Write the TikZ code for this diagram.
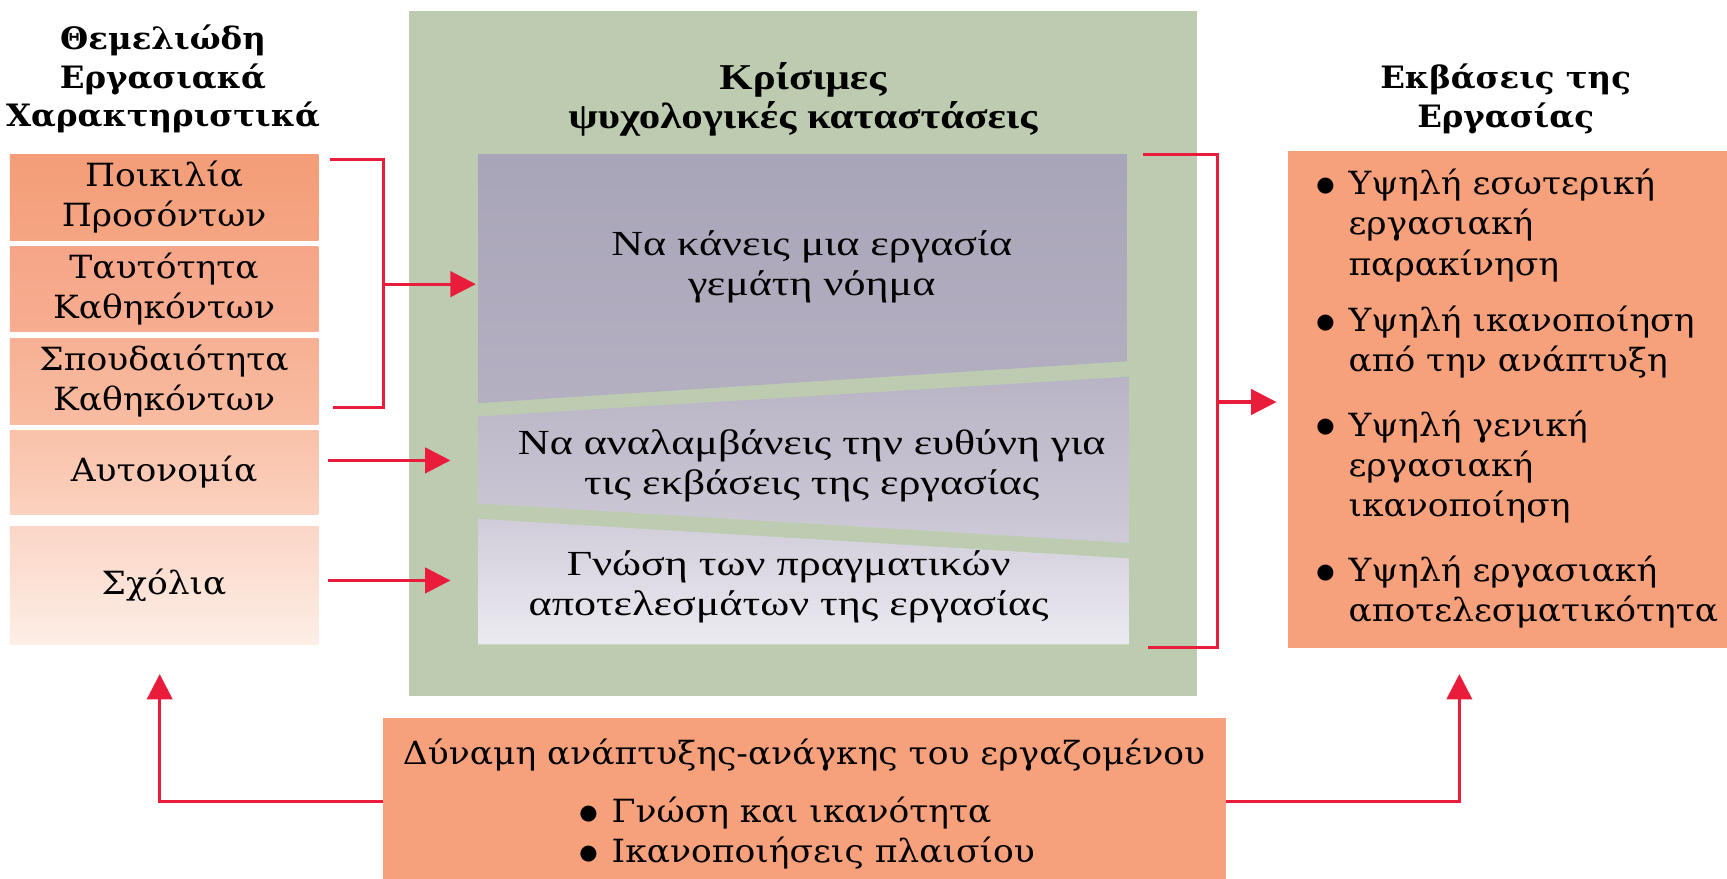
\documentclass[tikz,border=0pt]{standalone}
\usepackage{fontspec}
\setmainfont{DejaVu Serif}[FakeStretch=1.08]
\newfontfamily\headfont{DejaVu Serif}[FakeStretch=1.05]
\newfontfamily\timesgr{Liberation Serif}[FakeStretch=1.25]
\newfontfamily\timeshead{Liberation Serif}[FakeStretch=1.18]
\newfontfamily\symfont{DejaVu Sans}
\usetikzlibrary{positioning,arrows.meta,shadings}

\definecolor{panelgreen}{RGB}{189,204,177}
\definecolor{linkred}{RGB}{234,28,60}
\definecolor{salmon}{RGB}{246,160,124}

\newcommand{\itembul}{\makebox[7pt][c]{\raisebox{1.5pt}{\symfont\fontsize{9.5}{10}\selectfont ●}}}

\tikzset{
  feat/.style={minimum width=140pt, inner sep=0pt, align=center, font=\fontsize{14.5}{18.2}\selectfont},
  head/.style={align=center, inner sep=0pt, font=\headfont\bfseries\fontsize{14}{17.5}\selectfont},
  state/.style={align=center, inner sep=0pt, font=\timesgr\fontsize{16}{18.2}\selectfont},
  outcome/.style={anchor=north west, inner sep=0pt, font=\fontsize{14.5}{18.2}\selectfont},
  link/.style={draw=linkred, line width=1.4pt, -{Triangle[length=11.5pt,width=11.5pt]}},
  bracket/.style={draw=linkred, line width=1.4pt}
}

\begin{document}
\begin{tikzpicture}[x=0.5pt,y=-0.5pt]
\useasboundingbox (0,0) rectangle (1568,798);
%
  \node [head] (feathead) at (148,72) {Θεμελιώδη\\Εργασιακά\\Χαρακτηριστικά};
  \node [feat, minimum height=39pt, top color={rgb,255:red,244;green,157;blue,120}, bottom color={rgb,255:red,245;green,165;blue,130}] (pp) at (149,179) {Ποικιλία\\Προσόντων};
  \node [feat, minimum height=38.5pt, top color={rgb,255:red,246;green,165;blue,136}, bottom color={rgb,255:red,247;green,173;blue,144}] (tk) at (149,262.5) {Ταυτότητα\\Καθηκόντων};
  \node [feat, minimum height=39pt, top color={rgb,255:red,247;green,176;blue,147}, bottom color={rgb,255:red,248;green,188;blue,162}] (sk) at (149,346) {Σπουδαιότητα\\Καθηκόντων};
  \node [feat, minimum height=38pt, top color={rgb,255:red,249;green,193;blue,168}, bottom color={rgb,255:red,251;green,210;blue,192}] (au) at (149,429) {Αυτονομία};
  \node [feat, minimum height=53.5pt, top color={rgb,255:red,251;green,214;blue,198}, bottom color={rgb,255:red,253;green,238;blue,230}] (sx) at (149,531.5) {Σχόλια};

  % green panel with the three states
  \fill [panelgreen] (371,10) rectangle (1087,632);
  \node [head, font=\timeshead\bfseries\fontsize{16.5}{17.5}\selectfont] (statehead) at (729,90) {Κρίσιμες\\ψυχολογικές καταστάσεις};
  \shade [top color={rgb,255:red,169;green,165;blue,184}, bottom color={rgb,255:red,180;green,175;blue,193}] (434,140) -- (1023,140) -- (1023,328) -- (434,366) -- cycle;
  \shade [top color={rgb,255:red,185;green,180;blue,197}, bottom color={rgb,255:red,206;green,202;blue,215}] (434,378) -- (1025,342) -- (1025,493) -- (434,457) -- cycle;
  \shade [top color={rgb,255:red,208;green,204;blue,217}, bottom color={rgb,255:red,236;green,234;blue,241}] (434,471) -- (1025,507) -- (1025,585) -- (434,585) -- cycle;
  \node [state] (meaning) at (737,242) {Να κάνεις μια εργασία\\γεμάτη νόημα};
  \node [state] (resp) at (737,423) {Να αναλαμβάνεις την ευθύνη για\\τις εκβάσεις της εργασίας};
  \node [state] (know) at (716,533) {Γνώση των πραγματικών\\αποτελεσμάτων της εργασίας};

  % outcomes
  \node [head] (outhead) at (1367,90) {Εκβάσεις της\\Εργασίας};
  \node [fill=salmon, minimum width=199.5pt, minimum height=225.5pt, inner sep=0pt] (out) at (1368.5,362.5) {};
  \node [outcome] (o1) at (1196,151) {\begin{tabular}{@{}l@{\hspace{7pt}}l@{}}\itembul & Υψηλή εσωτερική\\ & εργασιακή\\ & παρακίνηση\end{tabular}};
  \node [outcome] (o2) at (1196,275) {\begin{tabular}{@{}l@{\hspace{7pt}}l@{}}\itembul & Υψηλή ικανοποίηση\\ & από την ανάπτυξη\end{tabular}};
  \node [outcome] (o3) at (1196,370) {\begin{tabular}{@{}l@{\hspace{7pt}}l@{}}\itembul & Υψηλή γενική\\ & εργασιακή\\ & ικανοποίηση\end{tabular}};
  \node [outcome] (o4) at (1196,502) {\begin{tabular}{@{}l@{\hspace{7pt}}l@{}}\itembul & Υψηλή εργασιακή\\ & αποτελεσματικότητα\end{tabular}};

  % growth need strength
  \node [fill=salmon, minimum width=382.5pt, minimum height=89pt, inner sep=0pt] (growth) at (730.5,741) {};
  \node [feat] (growthtitle) at (730,686) {Δύναμη ανάπτυξης-ανάγκης του εργαζομένου};
  \node [outcome] (growthlist) at (527,721) {\begin{tabular}{@{}l@{\hspace{7pt}}l@{}}\itembul & Γνώση και ικανότητα\\ \itembul & Ικανοποιήσεις πλαισίου\end{tabular}};

  \coordinate (lj) at (348,258);
  \coordinate (s1in) at (432,258);
  \coordinate (auout) at (298,418);
  \coordinate (s2in) at (409,418);
  \coordinate (sxout) at (298,527);
  \coordinate (s3in) at (409,527);
  \coordinate (rj) at (1105,365);
  \coordinate (outin) at (1159,365);
  \coordinate (fbtip) at (145,612);
  \coordinate (outtip) at (1325,612);

  \draw [bracket] (300,145) -- (348,145) -- (348,370) -- (302,370);
  \draw [link] (lj) -- (s1in);
  \draw [link] (auout) -- (s2in);
  \draw [link] (sxout) -- (s3in);
  \draw [bracket] (1038,140) -- (1105,140) -- (1105,588) -- (1042,588);
  \draw [link] (rj) -- (outin);
  \draw [link] (growth.west |- 0,728) -| (fbtip);
  \draw [link] (growth.east |- 0,728) -| (outtip);

\end{tikzpicture}
\end{document}
